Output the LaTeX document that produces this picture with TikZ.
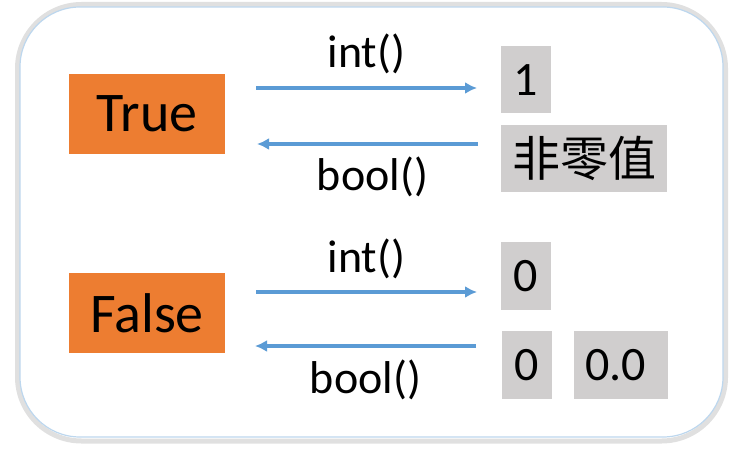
\documentclass[tikz,border=0pt]{standalone}
\usepackage{fontspec}
\setmainfont{Carlito}
\newfontfamily\cjkfont{Noto Sans CJK SC}
\usetikzlibrary{arrows.meta,positioning}
\definecolor{boolorange}{HTML}{ED7D31}
\definecolor{valgray}{HTML}{D0CECE}
\definecolor{convblue}{HTML}{5B9BD5}
\definecolor{frameblue}{HTML}{BDD7EE}
\tikzset{
  boolbox/.style  = {fill=boolorange, minimum width=78pt, minimum height=40pt,
                     inner sep=0pt, font=\fontsize{28}{30}\selectfont},
  valbox/.style   = {fill=valgray, minimum width=25pt, minimum height=33.5pt,
                     inner sep=4pt, font=\fontsize{24}{26}\selectfont},
  conv/.style     = {draw=convblue, line width=1.8pt,
                     -{Latex[length=6pt,width=6pt]}},
  funclabel/.style = {font=\fontsize{23}{25}\selectfont, inner sep=0pt,
                      anchor=base}
}

\begin{document}
\begin{tikzpicture}[x=0.5pt,y=-0.5pt]
  \useasboundingbox (0,0) rectangle (747,454);

  % outer frame with its soft shadow
  \draw[black!12, line width=2.5pt, rounded corners=32pt] (17.5,4.5) rectangle (725.5,441);
  \draw[frameblue, fill=white, line width=0.6pt, rounded corners=30pt] (20,7) rectangle (723,437);

  % the two boolean values
  \node[boolbox] (true) at (147,114) {True};
  \node[boolbox] (false) at (147,313) {False};

  % what they turn into, and what turns into them
  \node[valbox] (one) at (526,80) {1};
  \node[valbox, minimum width=83pt, below=5.5pt of one.south west, anchor=north west]
    (nonzero) {\cjkfont 非零值};
  \node[valbox, minimum height=34pt] (zero) at (526,276) {0};
  \node[valbox, minimum height=34pt] (zeroint) at (527,365) {0};
  \node[valbox, minimum height=34pt, minimum width=47pt, right=10.5pt of zeroint]
    (zerofloat) {0.0\kern5pt};

  % arrow ends
  \coordinate (ti1) at (256,88);  \coordinate (ti2) at (477,88);
  \coordinate (tb1) at (478,144); \coordinate (tb2) at (257,144);
  \coordinate (fi1) at (256,292); \coordinate (fi2) at (477,292);
  \coordinate (fb1) at (476,346); \coordinate (fb2) at (255,346);

  % conversions
  \draw[conv] (ti1) -- node[funclabel, yshift=10pt] {int()} (ti2);
  \draw[conv] (tb1) -- node[funclabel, yshift=-23pt, xshift=2.5pt] {bool()} (tb2);
  \draw[conv] (fi1) -- node[funclabel, yshift=10pt] {int()} (fi2);
  \draw[conv] (fb1) -- node[funclabel, yshift=-23.5pt] {bool()} (fb2);
\end{tikzpicture}
\end{document}
